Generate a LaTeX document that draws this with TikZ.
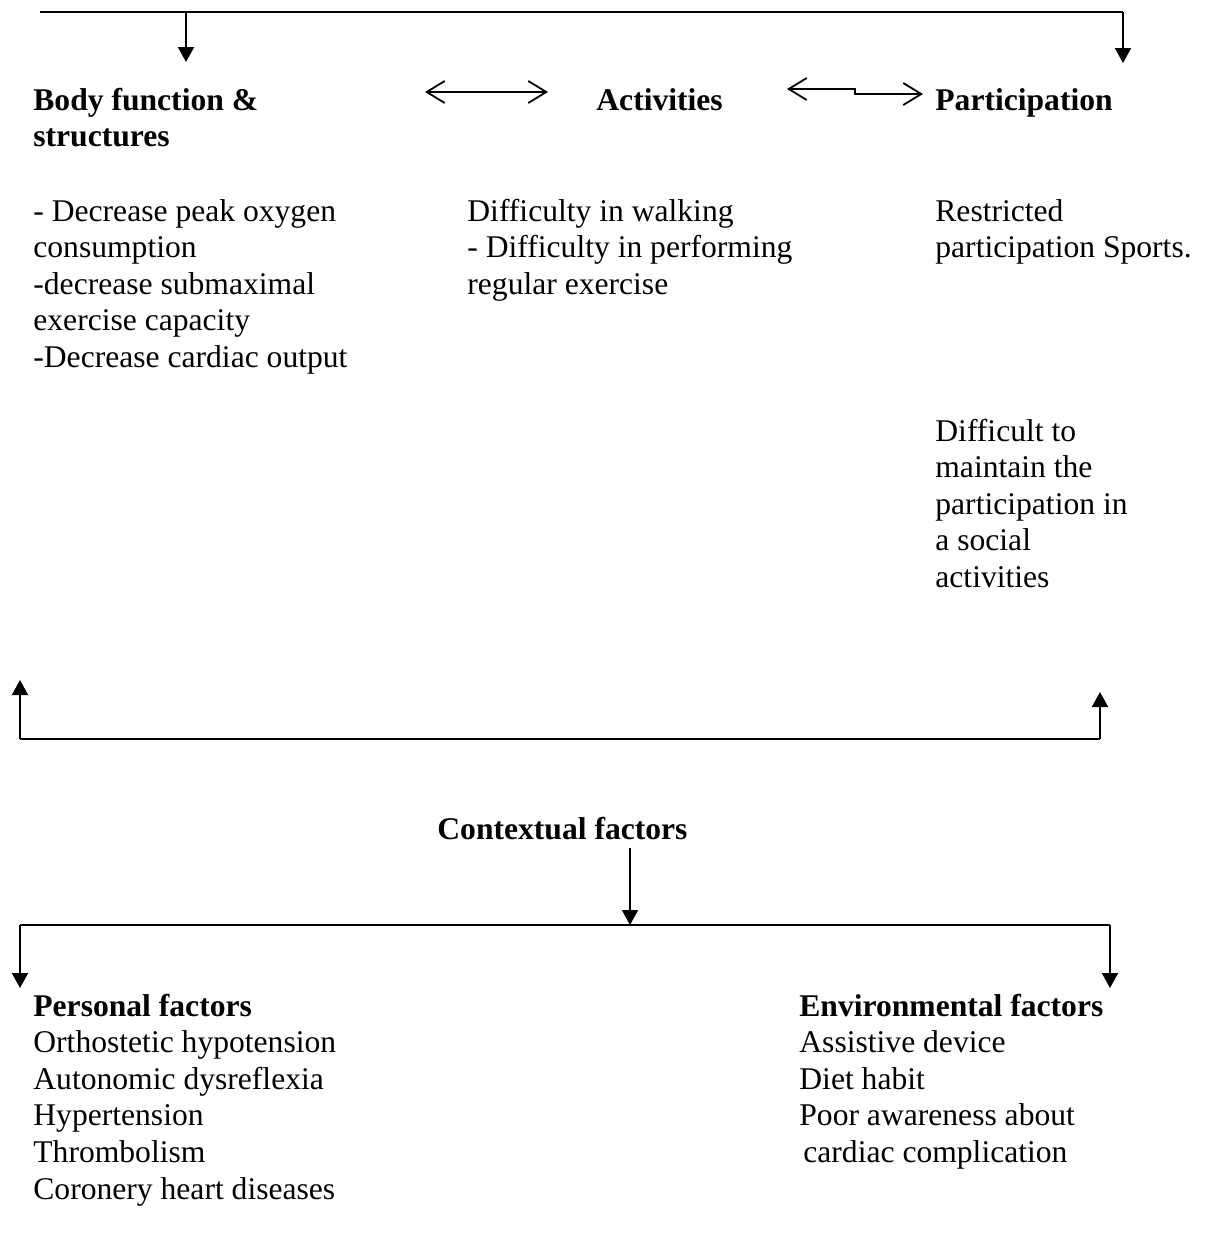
\documentclass[tikz,border=0pt]{standalone}
\usepackage{fontspec}
\setmainfont{Liberation Serif}
\usetikzlibrary{arrows.meta,calc,positioning}

\newcommand{\icfsize}{\fontsize{15.8}{18.3}\selectfont}
% base anchor of a multi-line node = baseline of its last line
\tikzset{
	head/.style={font=\icfsize\bfseries, anchor=base west, inner sep=0pt, align=left},
	txt/.style={font=\icfsize, anchor=base west, inner sep=0pt, align=left},
	bar/.style={line width=1pt},
	link/.style={line width=1pt, -{Triangle[length=7.5pt,width=8pt]}},
	twoway/.style={line width=0.9pt, {Straight Barb[length=9pt,width=11pt]}-{Straight Barb[length=9pt,width=11pt]}}
}

\begin{document}
\begin{tikzpicture}[x=0.5pt,y=-0.5pt]
	\useasboundingbox (0,0) rectangle (1210,1233);
	% headings
	\node[head] (body) at (33,146.6) {Body function \&\\structures};
	\node[head] (act) at (596,110) {Activities};
	\node[head] (part) at (935,110) {Participation};
	\node[txt] (bodytxt) at (33,367.4) {- Decrease peak oxygen\\consumption\\-decrease submaximal\\exercise capacity\\-Decrease cardiac output};
	\node[txt] (acttxt) at (467,294.2) {Difficulty in walking\\- Difficulty in performing\\regular exercise};
	\node[txt] (parttxt) at (935,257.6) {Restricted\\participation Sports.};
	\node[txt] (socialtxt) at (935,587.4) {Difficult to\\maintain the\\participation in\\a social\\activities};
	% top bracket
	\coordinate (topl) at (40,12);
	\coordinate (topr) at (1123,12);
	\coordinate (bodyin) at (186,12);
	\draw[bar] (topl) -- (topr);
	\draw[link] (bodyin) -- ++(0,50);
	\draw[link] (topr) -- ++(0,51);
	% arrows between headings
	\coordinate (a1) at (425,92);
	\coordinate (a2) at (548,92);
	\draw[twoway] (a1) -- (a2);
	\coordinate (b1) at (787,89);
	\coordinate (b2) at (923,94);
	\coordinate (bmid) at ($(b1)!0.5!(b2)$);
	\draw[twoway] (b1) -- (bmid |- b1) -- (bmid |- b2) -- (b2);
	% lower bracket
	\coordinate (botl) at (20,739);
	\coordinate (botr) at (1100,739);
	\draw[bar] (botl) -- (botr);
	\draw[link] (botl) -- ++(0,-59);
	\draw[link] (botr) -- ++(0,-47);
	% contextual factors
	\node[head] (ctx) at (437,839) {Contextual factors};
	\coordinate (ctxout) at (630,848);
	\coordinate (fork) at (630,925);
	\coordinate (forkl) at (20,925);
	\coordinate (forkr) at (1110,925);
	\draw[link] (ctxout) -- (fork);
	\draw[bar] (forkl) -- (forkr);
	\draw[link] (forkl) -- ++(0,63);
	\draw[link] (forkr) -- ++(0,63);
	\node[head] (pers) at (33,1016) {Personal factors};
	\node[txt] (perstxt) at (33,1199) {Orthostetic hypotension\\Autonomic dysreflexia\\Hypertension\\Thrombolism\\Coronery heart diseases};
	\node[head] (env) at (799,1016) {Environmental factors};
	\node[txt] (envtxt) at (799,1162.4) {Assistive device\\Diet habit\\Poor awareness about\\\hspace*{2pt}cardiac complication};
\end{tikzpicture}
\end{document}
